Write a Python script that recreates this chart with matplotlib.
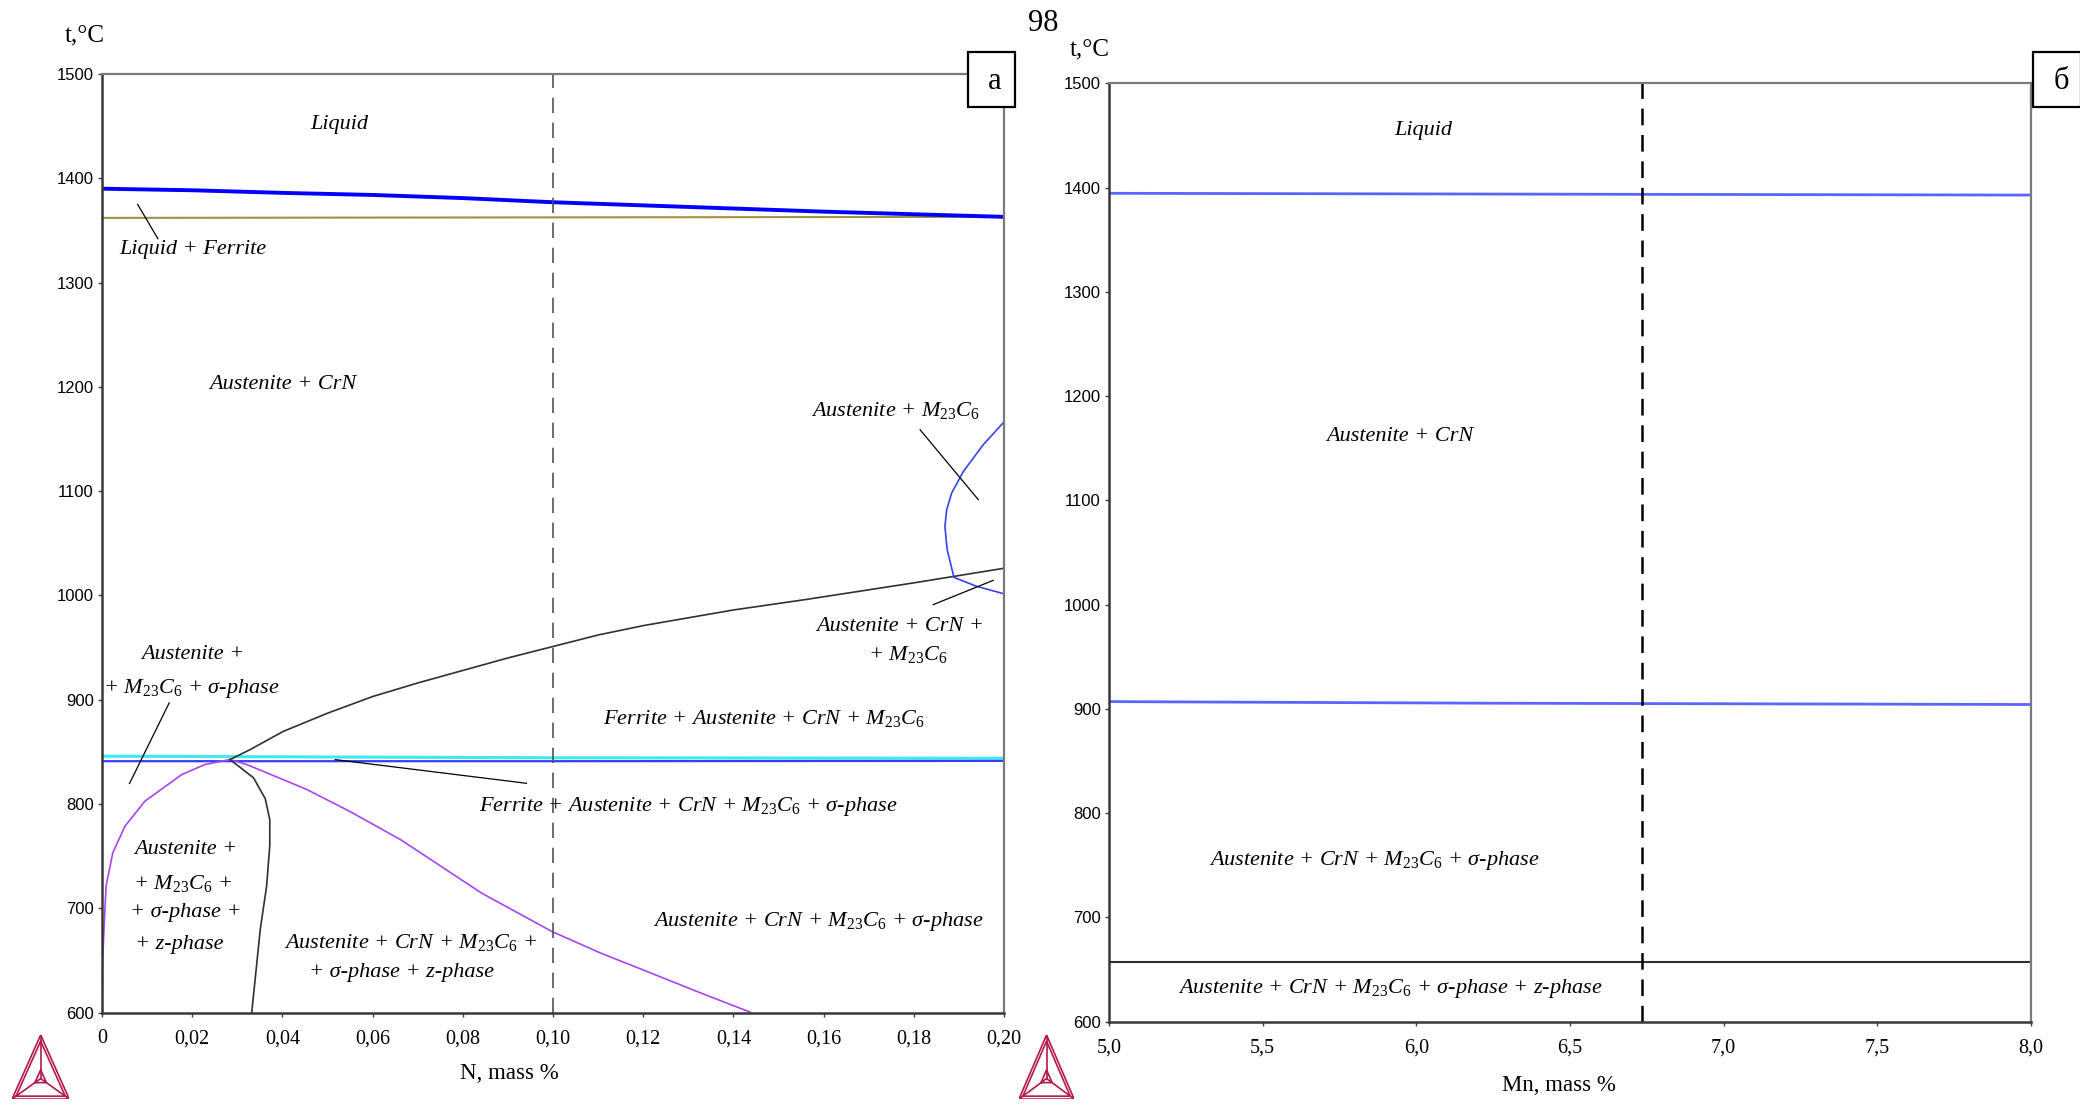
import numpy as np
import matplotlib.pyplot as plt
from matplotlib.patches import Rectangle

plt.rcParams['font.family'] = ['Liberation Sans Narrow', 'Liberation Sans', 'DejaVu Sans']
plt.rcParams['mathtext.fontset'] = 'custom'
plt.rcParams['mathtext.it'] = 'Liberation Serif:italic'
plt.rcParams['mathtext.rm'] = 'Liberation Serif'
plt.rcParams['mathtext.default'] = 'it'
plt.rcParams['lines.scale_dashes'] = False

SERIF = ['Liberation Serif', 'DejaVu Serif']
M = r'M$_{23}$C$_6$'

# -----------------------------
# (a) N section data
# -----------------------------
liq_n = [0, 0.02, 0.04, 0.06, 0.08, 0.10, 0.12, 0.14, 0.16, 0.18, 0.20]
liq_t = [1390, 1388.5, 1386, 1384, 1381, 1377, 1374, 1371, 1368, 1365.5, 1363]

sol_n = [0, 0.20]
sol_t = [1362, 1363]

ferr_n = [0.0284, 0.0328, 0.0402, 0.05, 0.06, 0.07, 0.08, 0.09, 0.10, 0.11, 0.12, 0.14, 0.156, 0.18, 0.20]
ferr_t = [842.6, 852, 869.6, 887, 903, 916, 928, 940, 951, 962, 971, 986, 996, 1012, 1026]

cyan_n = [0, 0.10, 0.20]
cyan_t = [845.8, 844.3, 843.8]

blue840_n = [0, 0.10, 0.20]
blue840_t = [841, 841, 841.3]

violet_l_n = [0, 0.0001, 0.0004, 0.0009, 0.0024, 0.0051, 0.0095, 0.0177, 0.0228, 0.0284]
violet_l_t = [600, 644.5, 676.5, 721.2, 753.2, 778.7, 802.6, 828.2, 837.8, 842.6]

violet_r_n = [0.0284, 0.0321, 0.0454, 0.055, 0.0663, 0.0842, 0.0998, 0.1104, 0.1215, 0.1326, 0.1437]
violet_r_t = [842.6, 837.8, 813.9, 792.7, 765.5, 714.4, 677.6, 657.3, 638.2, 619, 600.4]

black_low_n = [0.0284, 0.0336, 0.0362, 0.0372, 0.0372, 0.0365, 0.0351, 0.0332]
black_low_t = [842.6, 825, 805, 785, 760, 721.2, 680, 600]

m23_n = [0.2001, 0.1954, 0.1910, 0.1884, 0.1873, 0.1869, 0.1874, 0.1889, 0.1939, 0.2001]
m23_t = [1166.8, 1144.5, 1118.9, 1098.2, 1082.2, 1066.2, 1043.8, 1017.3, 1008.7, 1001.4]

dashed_n = 0.10

leaders_a = [
    ([0.0079, 0.0124], [1375, 1342]),
    ([0.0149, 0.0061], [896.9, 819.6]),
    ([0.0517, 0.0941], [842.5, 819.8]),
    ([0.1814, 0.1943], [1158.8, 1091.8]),
    ([0.1843, 0.1976], [991.1, 1014.4]),
]

labels_a = [
    ("Liquid", 0.0527, 1452),
    ("Liquid + Ferrite", 0.0202, 1332),
    ("Austenite + CrN", 0.040, 1202),
    ("Austenite + " + M, 0.176, 1177),
    ("Austenite + CrN +", 0.177, 970),
    ("+ " + M, 0.1786, 943),
    ("Austenite +", 0.0202, 943),
    ("+ " + M + " + σ-phase", 0.0198, 911),
    ("Ferrite + Austenite + CrN + " + M, 0.1468, 882),
    ("Ferrite + Austenite + CrN + " + M + " + σ-phase", 0.130, 798),
    ("Austenite +", 0.0185, 756),
    ("+ " + M + " +", 0.0178, 724),
    ("+ σ-phase +", 0.0186, 696),
    ("+ z-phase", 0.0172, 665),
    ("Austenite + CrN + " + M + " +", 0.0684, 667),
    ("+ σ-phase + z-phase", 0.0664, 638),
    ("Austenite + CrN + " + M + " + σ-phase", 0.1589, 687),
]

n_ticks = [0, 0.02, 0.04, 0.06, 0.08, 0.10, 0.12, 0.14, 0.16, 0.18, 0.20]
n_labels = ["0", "0,02", "0,04", "0,06", "0,08", "0,10", "0,12", "0,14", "0,16", "0,18", "0,20"]

# -----------------------------
# (б) Mn section data
# -----------------------------
mn_line = [5.0, 6.2, 8.0]
blue_top_t = [1394.5, 1393.8, 1392.8]
blue_mid_t = [907, 905.5, 904.2]
black_t = [657, 657, 657]
dashed_mn = 6.735

labels_b = [
    ("Liquid", 6.024, 1455),
    ("Austenite + CrN", 5.945, 1161),
    ("Austenite + CrN + " + M + " + σ-phase", 5.863, 755),
    ("Austenite + CrN + " + M + " + σ-phase + z-phase", 5.915, 632),
]

mn_ticks = [5.0, 5.5, 6.0, 6.5, 7.0, 7.5, 8.0]
mn_labels = ["5,0", "5,5", "6,0", "6,5", "7,0", "7,5", "8,0"]

t_ticks = list(range(600, 1501, 100))

# -----------------------------
# Plot
# -----------------------------
fig = plt.figure(figsize=(20.8, 11.04), dpi=100)
ax1 = fig.add_axes([0.04904, 0.08288, 0.43365, 0.8501])
ax2 = fig.add_axes([0.53317, 0.07455, 0.44327, 0.85])


def style_axes(ax, xticks, xlabels, xlim, xlabel, lpos):
    ax.set_xlim(*xlim)
    ax.set_ylim(600, 1500)
    ax.set_xticks(xticks)
    ax.set_xticklabels(xlabels, family=SERIF, fontsize=14.5)
    ax.set_yticks(t_ticks)
    ax.set_yticklabels([str(t) for t in t_ticks], fontsize=12)
    ax.tick_params(axis='both', direction='out', length=3, width=1, color='#404040')
    ax.tick_params(axis='x', pad=9)
    ax.tick_params(axis='y', pad=3)
    for side in ('left', 'bottom'):
        ax.spines[side].set_color('#383838')
        ax.spines[side].set_linewidth(1.8)
    for side in ('top', 'right'):
        ax.spines[side].set_color('#7a7a7a')
        ax.spines[side].set_linewidth(1.6)
    ax.text(lpos[0], lpos[1], xlabel, transform=ax.transAxes, family=SERIF,
            fontsize=16.5, ha='center', va='center')


style_axes(ax1, n_ticks, n_labels, (0, 0.20), "N, mass %", (0.452, -0.0655))
style_axes(ax2, mn_ticks, mn_labels, (5.0, 8.0), "Mn, mass %", (0.488, -0.0675))

# (a) lines
ax1.plot(sol_n, sol_t, color='#9c9440', lw=1.5)
ax1.plot(liq_n, liq_t, color='#0000ff', lw=2.8)
ax1.plot(cyan_n, cyan_t, color='#40e8f0', lw=2.2)
ax1.plot(blue840_n, blue840_t, color='#3a3aff', lw=1.6)
ax1.plot(ferr_n, ferr_t, color='#303030', lw=1.2)
ax1.plot(violet_l_n, violet_l_t, color='#a545f5', lw=1.2)
ax1.plot(violet_r_n, violet_r_t, color='#a545f5', lw=1.2)
ax1.plot(black_low_n, black_low_t, color='#303030', lw=1.2)
ax1.plot(m23_n, m23_t, color='#3545e5', lw=1.2)
ax1.axvline(dashed_n, color='#505050', lw=1.2, dashes=(11, 7))
for xs, ts in leaders_a:
    ax1.plot(xs, ts, color='black', lw=0.9)
for txt, x, t in labels_a:
    ax1.text(x, t, txt, family=SERIF, style='italic', fontsize=16,
             ha='center', va='center')

# (б) lines
ax2.plot(mn_line, blue_top_t, color='#5a64ff', lw=2.0)
ax2.plot(mn_line, blue_mid_t, color='#5a64ff', lw=2.0)
ax2.plot(mn_line, black_t, color='#303030', lw=1.5)
ax2.axvline(dashed_mn, color='black', lw=1.8, dashes=(12, 7))
for txt, x, t in labels_b:
    ax2.text(x, t, txt, family=SERIF, style='italic', fontsize=16,
             ha='center', va='center')

# axis titles and page number
fig.text(0.0409, 0.968, "t,°C", family=SERIF, fontsize=18, ha='center', va='center')
fig.text(0.524, 0.9556, "t,°C", family=SERIF, fontsize=18, ha='center', va='center')
fig.text(0.5014, 0.979, "98", family=SERIF, fontsize=22, ha='center', va='center')

# panel boxes
for x0, lab, cx in [(0.4652, "а", 0.4784), (0.9774, "б", 0.9912)]:
    fig.patches.append(Rectangle((x0, 0.9034), 0.0229, 0.0493, transform=fig.transFigure,
                                 facecolor='white', edgecolor='black', lw=1.6, zorder=5))
    fig.text(cx, 0.9265, lab, family=SERIF, fontsize=22, ha='center', va='center', zorder=6)


# Thermo-Calc logos
def draw_logo(rect):
    lax = fig.add_axes(rect)
    lax.axis('off')
    lax.set_xlim(0, 1)
    lax.set_ylim(0, 1)
    v = np.array([[0.0, 0.0], [1.0, 0.0], [0.5, 1.0], [0.0, 0.0]])
    c = np.array([0.5, 0.32])
    for s in (1.0, 0.86):
        tri = c + (v - c) * s
        lax.plot(tri[:, 0], tri[:, 1], color='#b3184d', lw=1.2)
    for p in v[:3]:
        lax.plot([p[0], c[0]], [p[1], c[1]], color='#b3184d', lw=1.2)
    small = c + (v - c) * 0.2
    lax.plot(small[:, 0], small[:, 1], color='#b3184d', lw=1.2)


draw_logo([0.0058, 0.0045, 0.0275, 0.0580])
draw_logo([0.4899, 0.0045, 0.0265, 0.0580])

fig.savefig("out.png", dpi=100)
